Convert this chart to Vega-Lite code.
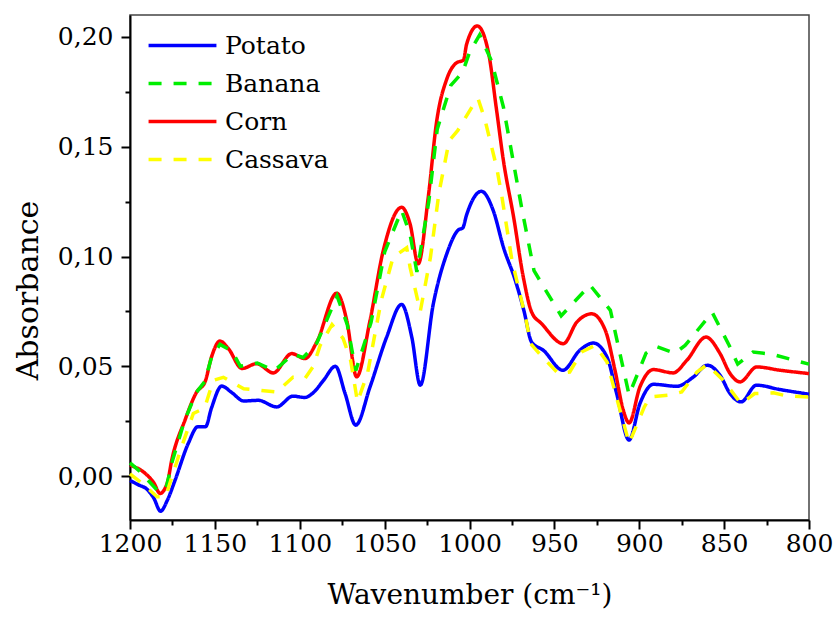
{
  "$schema": "https://vega.github.io/schema/vega-lite/v6.json",
  "width": 679,
  "height": 505,
  "autosize": {"type": "none"},
  "padding": {"left": 130, "top": 15, "right": 26, "bottom": 108},
  "background": "white",
  "config": {
    "font": "DejaVu Serif",
    "view": {"stroke": "#444", "strokeWidth": 1.5},
    "axis": {
      "grid": false,
      "domainColor": "black",
      "domainWidth": 2,
      "tickColor": "black",
      "tickWidth": 2,
      "labelFont": "DejaVu Serif",
      "titleFont": "DejaVu Serif",
      "labelColor": "black",
      "titleColor": "black",
      "labelFontSize": 25,
      "titleFontSize": 30,
      "titleFontWeight": "normal"
    },
    "legend": {
      "labelFont": "DejaVu Serif",
      "labelFontSize": 25,
      "labelColor": "black",
      "padding": 0
    }
  },
  "datasets": {
    "spectra": [
      {"series": "Potato", "w": 1200, "a": -0.002},
      {"series": "Potato", "w": 1195, "a": -0.004},
      {"series": "Potato", "w": 1190, "a": -0.006},
      {"series": "Potato", "w": 1186, "a": -0.010},
      {"series": "Potato", "w": 1182, "a": -0.016},
      {"series": "Potato", "w": 1178, "a": -0.011},
      {"series": "Potato", "w": 1173.5, "a": -0.002},
      {"series": "Potato", "w": 1165.6, "a": 0.015},
      {"series": "Potato", "w": 1160, "a": 0.0225},
      {"series": "Potato", "w": 1155.5, "a": 0.0225},
      {"series": "Potato", "w": 1152, "a": 0.031},
      {"series": "Potato", "w": 1146, "a": 0.041},
      {"series": "Potato", "w": 1140, "a": 0.038},
      {"series": "Potato", "w": 1133, "a": 0.0342},
      {"series": "Potato", "w": 1124.4, "a": 0.0345},
      {"series": "Potato", "w": 1113.6, "a": 0.0315},
      {"series": "Potato", "w": 1104, "a": 0.0364},
      {"series": "Potato", "w": 1097, "a": 0.0358},
      {"series": "Potato", "w": 1092, "a": 0.038},
      {"series": "Potato", "w": 1086, "a": 0.0436},
      {"series": "Potato", "w": 1079, "a": 0.05},
      {"series": "Potato", "w": 1073.3, "a": 0.0376},
      {"series": "Potato", "w": 1067, "a": 0.0232},
      {"series": "Potato", "w": 1058.6, "a": 0.0406},
      {"series": "Potato", "w": 1048.8, "a": 0.0633},
      {"series": "Potato", "w": 1040, "a": 0.0782},
      {"series": "Potato", "w": 1034, "a": 0.0633},
      {"series": "Potato", "w": 1029, "a": 0.0414},
      {"series": "Potato", "w": 1021.3, "a": 0.0785},
      {"series": "Potato", "w": 1013.4, "a": 0.1012},
      {"series": "Potato", "w": 1006.6, "a": 0.1121},
      {"series": "Potato", "w": 1004, "a": 0.113},
      {"series": "Potato", "w": 1001.7, "a": 0.119},
      {"series": "Potato", "w": 993, "a": 0.1297},
      {"series": "Potato", "w": 986, "a": 0.1209},
      {"series": "Potato", "w": 980, "a": 0.1042},
      {"series": "Potato", "w": 973, "a": 0.0891},
      {"series": "Potato", "w": 968, "a": 0.0755},
      {"series": "Potato", "w": 963.4, "a": 0.061},
      {"series": "Potato", "w": 956.5, "a": 0.0573},
      {"series": "Potato", "w": 945, "a": 0.0482},
      {"series": "Potato", "w": 935, "a": 0.0573},
      {"series": "Potato", "w": 927, "a": 0.0606},
      {"series": "Potato", "w": 919, "a": 0.0542},
      {"series": "Potato", "w": 913.3, "a": 0.0376},
      {"series": "Potato", "w": 906, "a": 0.0164},
      {"series": "Potato", "w": 899.6, "a": 0.033},
      {"series": "Potato", "w": 891.7, "a": 0.0418},
      {"series": "Potato", "w": 878, "a": 0.0409},
      {"series": "Potato", "w": 868, "a": 0.0452},
      {"series": "Potato", "w": 860, "a": 0.0505},
      {"series": "Potato", "w": 852.4, "a": 0.0459},
      {"series": "Potato", "w": 846.5, "a": 0.0376},
      {"series": "Potato", "w": 840, "a": 0.0338},
      {"series": "Potato", "w": 831, "a": 0.0414},
      {"series": "Potato", "w": 817, "a": 0.0394},
      {"series": "Potato", "w": 800, "a": 0.0373},

      {"series": "Corn", "w": 1200, "a": 0.005},
      {"series": "Corn", "w": 1191, "a": 0.0012},
      {"series": "Corn", "w": 1186, "a": -0.003},
      {"series": "Corn", "w": 1182.3, "a": -0.0079},
      {"series": "Corn", "w": 1178, "a": -0.003},
      {"series": "Corn", "w": 1175.4, "a": 0.0073},
      {"series": "Corn", "w": 1167.6, "a": 0.0255},
      {"series": "Corn", "w": 1160.7, "a": 0.0383},
      {"series": "Corn", "w": 1155.8, "a": 0.0429},
      {"series": "Corn", "w": 1152, "a": 0.0542},
      {"series": "Corn", "w": 1147, "a": 0.0615},
      {"series": "Corn", "w": 1142, "a": 0.058},
      {"series": "Corn", "w": 1134, "a": 0.049},
      {"series": "Corn", "w": 1125.4, "a": 0.0512},
      {"series": "Corn", "w": 1115.6, "a": 0.047},
      {"series": "Corn", "w": 1104.7, "a": 0.0558},
      {"series": "Corn", "w": 1097, "a": 0.0535},
      {"series": "Corn", "w": 1090, "a": 0.061},
      {"series": "Corn", "w": 1078.2, "a": 0.0833},
      {"series": "Corn", "w": 1072.3, "a": 0.0709},
      {"series": "Corn", "w": 1066.5, "a": 0.0452},
      {"series": "Corn", "w": 1058.6, "a": 0.0709},
      {"series": "Corn", "w": 1050.8, "a": 0.1027},
      {"series": "Corn", "w": 1040, "a": 0.1224},
      {"series": "Corn", "w": 1035, "a": 0.1148},
      {"series": "Corn", "w": 1030.2, "a": 0.0967},
      {"series": "Corn", "w": 1024.3, "a": 0.127},
      {"series": "Corn", "w": 1019.3, "a": 0.1618},
      {"series": "Corn", "w": 1013.4, "a": 0.1808},
      {"series": "Corn", "w": 1007.5, "a": 0.1883},
      {"series": "Corn", "w": 1003.6, "a": 0.1894},
      {"series": "Corn", "w": 1001.7, "a": 0.1967},
      {"series": "Corn", "w": 995.4, "a": 0.205},
      {"series": "Corn", "w": 989, "a": 0.1936},
      {"series": "Corn", "w": 984, "a": 0.1664},
      {"series": "Corn", "w": 980, "a": 0.1436},
      {"series": "Corn", "w": 974, "a": 0.1179},
      {"series": "Corn", "w": 968.3, "a": 0.0906},
      {"series": "Corn", "w": 963.4, "a": 0.0747},
      {"series": "Corn", "w": 957.5, "a": 0.0694},
      {"series": "Corn", "w": 944.7, "a": 0.0603},
      {"series": "Corn", "w": 936.8, "a": 0.0701},
      {"series": "Corn", "w": 928, "a": 0.0739},
      {"series": "Corn", "w": 920, "a": 0.0664},
      {"series": "Corn", "w": 914.3, "a": 0.0482},
      {"series": "Corn", "w": 909.4, "a": 0.03},
      {"series": "Corn", "w": 906, "a": 0.0242},
      {"series": "Corn", "w": 899.6, "a": 0.0406},
      {"series": "Corn", "w": 891.7, "a": 0.0485},
      {"series": "Corn", "w": 880, "a": 0.047},
      {"series": "Corn", "w": 872, "a": 0.0527},
      {"series": "Corn", "w": 860.7, "a": 0.0633},
      {"series": "Corn", "w": 852.4, "a": 0.0558},
      {"series": "Corn", "w": 846.5, "a": 0.0467},
      {"series": "Corn", "w": 840.6, "a": 0.0429},
      {"series": "Corn", "w": 830.8, "a": 0.0497},
      {"series": "Corn", "w": 817, "a": 0.0482},
      {"series": "Corn", "w": 800, "a": 0.0467},

      {"series": "Banana", "w": 1200, "a": 0.006},
      {"series": "Banana", "w": 1194, "a": 0.002},
      {"series": "Banana", "w": 1184, "a": -0.0064},
      {"series": "Banana", "w": 1179, "a": -0.0064},
      {"series": "Banana", "w": 1175, "a": 0.007},
      {"series": "Banana", "w": 1168, "a": 0.025},
      {"series": "Banana", "w": 1161, "a": 0.038},
      {"series": "Banana", "w": 1156, "a": 0.043},
      {"series": "Banana", "w": 1152, "a": 0.054},
      {"series": "Banana", "w": 1147, "a": 0.06},
      {"series": "Banana", "w": 1140, "a": 0.057},
      {"series": "Banana", "w": 1135, "a": 0.05},
      {"series": "Banana", "w": 1125, "a": 0.0515},
      {"series": "Banana", "w": 1115, "a": 0.048},
      {"series": "Banana", "w": 1104, "a": 0.0555},
      {"series": "Banana", "w": 1098, "a": 0.054},
      {"series": "Banana", "w": 1090, "a": 0.0605},
      {"series": "Banana", "w": 1078, "a": 0.082},
      {"series": "Banana", "w": 1072, "a": 0.069},
      {"series": "Banana", "w": 1067, "a": 0.048},
      {"series": "Banana", "w": 1058, "a": 0.07},
      {"series": "Banana", "w": 1050, "a": 0.102},
      {"series": "Banana", "w": 1040, "a": 0.121},
      {"series": "Banana", "w": 1035, "a": 0.11},
      {"series": "Banana", "w": 1031, "a": 0.093},
      {"series": "Banana", "w": 1024, "a": 0.125},
      {"series": "Banana", "w": 1019, "a": 0.158},
      {"series": "Banana", "w": 1011, "a": 0.178},
      {"series": "Banana", "w": 1004, "a": 0.184},
      {"series": "Banana", "w": 1000, "a": 0.193},
      {"series": "Banana", "w": 994, "a": 0.201},
      {"series": "Banana", "w": 987, "a": 0.189},
      {"series": "Banana", "w": 980, "a": 0.168},
      {"series": "Banana", "w": 969, "a": 0.121},
      {"series": "Banana", "w": 962, "a": 0.0936},
      {"series": "Banana", "w": 955, "a": 0.0845},
      {"series": "Banana", "w": 946, "a": 0.073},
      {"series": "Banana", "w": 929, "a": 0.087},
      {"series": "Banana", "w": 917, "a": 0.0755},
      {"series": "Banana", "w": 906, "a": 0.037},
      {"series": "Banana", "w": 896, "a": 0.056},
      {"series": "Banana", "w": 890, "a": 0.059},
      {"series": "Banana", "w": 879, "a": 0.056},
      {"series": "Banana", "w": 873, "a": 0.0595},
      {"series": "Banana", "w": 857, "a": 0.0745},
      {"series": "Banana", "w": 847, "a": 0.0595},
      {"series": "Banana", "w": 842, "a": 0.051},
      {"series": "Banana", "w": 833, "a": 0.0565},
      {"series": "Banana", "w": 822, "a": 0.0555},
      {"series": "Banana", "w": 800, "a": 0.051},

      {"series": "Cassava", "w": 1200, "a": 0.001},
      {"series": "Cassava", "w": 1194, "a": -0.0026},
      {"series": "Cassava", "w": 1184, "a": -0.0094},
      {"series": "Cassava", "w": 1179, "a": -0.0094},
      {"series": "Cassava", "w": 1176, "a": -0.002},
      {"series": "Cassava", "w": 1169.6, "a": 0.0133},
      {"series": "Cassava", "w": 1162.7, "a": 0.0285},
      {"series": "Cassava", "w": 1156, "a": 0.031},
      {"series": "Cassava", "w": 1151, "a": 0.0436},
      {"series": "Cassava", "w": 1145, "a": 0.045},
      {"series": "Cassava", "w": 1133, "a": 0.0398},
      {"series": "Cassava", "w": 1113.6, "a": 0.0383},
      {"series": "Cassava", "w": 1104, "a": 0.045},
      {"series": "Cassava", "w": 1097, "a": 0.0444},
      {"series": "Cassava", "w": 1092, "a": 0.05},
      {"series": "Cassava", "w": 1088, "a": 0.0595},
      {"series": "Cassava", "w": 1081, "a": 0.069},
      {"series": "Cassava", "w": 1074.4, "a": 0.0626},
      {"series": "Cassava", "w": 1070, "a": 0.0527},
      {"series": "Cassava", "w": 1066, "a": 0.0338},
      {"series": "Cassava", "w": 1060, "a": 0.047},
      {"series": "Cassava", "w": 1052, "a": 0.08},
      {"series": "Cassava", "w": 1045, "a": 0.0997},
      {"series": "Cassava", "w": 1037, "a": 0.104},
      {"series": "Cassava", "w": 1035, "a": 0.0951},
      {"series": "Cassava", "w": 1029, "a": 0.075},
      {"series": "Cassava", "w": 1023, "a": 0.0997},
      {"series": "Cassava", "w": 1018, "a": 0.129},
      {"series": "Cassava", "w": 1012, "a": 0.1527},
      {"series": "Cassava", "w": 1007, "a": 0.1573},
      {"series": "Cassava", "w": 997, "a": 0.1701},
      {"series": "Cassava", "w": 995, "a": 0.172},
      {"series": "Cassava", "w": 991, "a": 0.1626},
      {"series": "Cassava", "w": 984, "a": 0.1406},
      {"series": "Cassava", "w": 981, "a": 0.1277},
      {"series": "Cassava", "w": 975, "a": 0.0982},
      {"series": "Cassava", "w": 967, "a": 0.0724},
      {"series": "Cassava", "w": 964, "a": 0.0603},
      {"series": "Cassava", "w": 958, "a": 0.055},
      {"series": "Cassava", "w": 947.7, "a": 0.0467},
      {"series": "Cassava", "w": 941, "a": 0.0474},
      {"series": "Cassava", "w": 934, "a": 0.0565},
      {"series": "Cassava", "w": 926, "a": 0.0595},
      {"series": "Cassava", "w": 919, "a": 0.052},
      {"series": "Cassava", "w": 914, "a": 0.0376},
      {"series": "Cassava", "w": 906, "a": 0.015},
      {"series": "Cassava", "w": 897, "a": 0.0315},
      {"series": "Cassava", "w": 893.7, "a": 0.036},
      {"series": "Cassava", "w": 883, "a": 0.0368},
      {"series": "Cassava", "w": 875, "a": 0.0383},
      {"series": "Cassava", "w": 866, "a": 0.0474},
      {"series": "Cassava", "w": 860, "a": 0.0508},
      {"series": "Cassava", "w": 850.5, "a": 0.0436},
      {"series": "Cassava", "w": 840, "a": 0.033},
      {"series": "Cassava", "w": 832, "a": 0.0376},
      {"series": "Cassava", "w": 821, "a": 0.0379},
      {"series": "Cassava", "w": 813, "a": 0.0365},
      {"series": "Cassava", "w": 800, "a": 0.036}
    ]
  },
  "data": {"name": "spectra"},
  "encoding": {
    "x": {
      "field": "w",
      "type": "quantitative",
      "scale": {"domain": [800, 1200], "reverse": true, "nice": false, "zero": false},
      "axis": {
        "title": "Wavenumber (cm⁻¹)",
        "titleFontSize": 28,
        "values": [1200, 1175, 1150, 1125, 1100, 1075, 1050, 1025, 1000, 975, 950, 925, 900, 875, 850, 825, 800],
        "labelExpr": "datum.value % 50 === 0 ? format(datum.value, 'd') : ''",
        "tickSize": {"condition": {"test": "datum.value % 50 === 0", "value": 9}, "value": 5},
        "labelPadding": 2,
        "titlePadding": 25,
        "labelFlush": false,
        "labelOverlap": false
      }
    },
    "y": {
      "field": "a",
      "type": "quantitative",
      "scale": {"domain": [-0.02, 0.21], "nice": false, "zero": false},
      "axis": {
        "title": "Absorbance",
        "titleY": 275,
        "values": [0, 0.025, 0.05, 0.075, 0.1, 0.125, 0.15, 0.175, 0.2],
        "labelExpr": "round(datum.value*1000) % 50 === 0 ? replace(format(datum.value, '.2f'), '.', ',') : ''",
        "tickSize": {"condition": {"test": "round(datum.value*1000) % 50 === 0", "value": 9}, "value": 5},
        "labelPadding": 8,
        "titlePadding": 14,
        "labelOverlap": false
      }
    },
    "color": {
      "field": "series",
      "type": "nominal",
      "scale": {
        "domain": ["Potato", "Banana", "Corn", "Cassava"],
        "range": ["#0000ff", "#00ee00", "#ff0000", "#ffff00"]
      },
      "legend": {
        "title": null,
        "orient": "none",
        "legendX": 40,
        "legendY": 18,
        "symbolType": "M-8,0H8",
        "symbolSize": 72,
        "symbolStrokeWidth": 3.5,
        "labelOffset": 30,
        "rowPadding": 12
      }
    },
    "strokeDash": {
      "field": "series",
      "type": "nominal",
      "scale": {
        "domain": ["Potato", "Banana", "Corn", "Cassava"],
        "range": [[1, 0], [13, 12], [1, 0], [13, 12]]
      },
      "legend": null
    }
  },
  "layer": [
    {
      "transform": [{"filter": "datum.series === 'Potato' || datum.series === 'Corn'"}],
      "mark": {"type": "line", "strokeWidth": 3.5, "interpolate": "monotone"}
    },
    {
      "transform": [{"filter": "datum.series === 'Banana' || datum.series === 'Cassava'"}],
      "mark": {"type": "line", "strokeWidth": 3.5, "interpolate": "linear"}
    }
  ]
}
